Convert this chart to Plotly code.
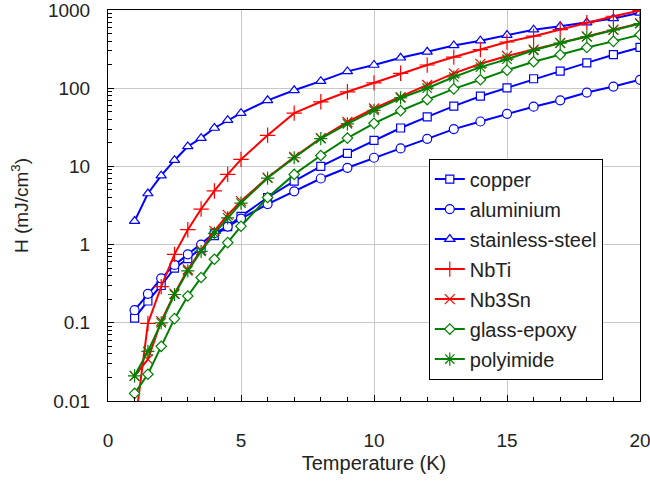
import plotly.graph_objects as go

temperature = [1, 1.5, 2, 2.5, 3, 3.5, 4, 4.5, 5, 6, 7, 8, 9, 10, 11, 12, 13, 14, 15, 16, 17, 18, 19, 20]

copper = [0.115, 0.19, 0.30, 0.50, 0.66, 0.90, 1.3, 1.7, 2.3, 4.0, 6.5, 10, 14.7, 21.5, 31, 43, 59, 79, 101, 132, 165, 211, 268, 332]
aluminium = [0.145, 0.235, 0.37, 0.55, 0.75, 1.0, 1.4, 1.7, 2.15, 3.3, 4.8, 7.0, 9.6, 12.9, 17, 22.5, 30, 37.5, 47, 58, 70, 88, 105, 128]
stainless_steel = [2.0, 4.5, 7.6, 12, 18, 23, 31, 39, 48, 70, 94, 123, 164, 198, 245, 292, 352, 405, 478, 560, 618, 690, 780, 920]
nbti = [0.0045, 0.098, 0.29, 0.75, 1.55, 2.85, 4.85, 7.9, 12.3, 25, 48, 67, 90, 117, 155, 198, 250, 312, 390, 462, 562, 690, 832, 985]
nb3sn = [0.021, 0.034, 0.105, 0.236, 0.48, 0.85, 1.5, 2.4, 3.6, 7.2, 13.2, 23, 37, 55, 77, 110, 155, 205, 258, 312, 380, 460, 560, 680]
glass_epoxy = [0.0125, 0.022, 0.05, 0.113, 0.22, 0.38, 0.65, 1.06, 1.72, 4.0, 7.9, 13.8, 23, 35.5, 51.5, 71.5, 98, 128, 170, 218, 268, 332, 397, 483]
polyimide = [0.021, 0.043, 0.10, 0.23, 0.46, 0.82, 1.39, 2.2, 3.4, 7.1, 12.9, 22.7, 35, 52, 75, 100, 139, 186, 235, 305, 378, 455, 555, 670]

series_names = ["copper", "aluminium", "stainless-steel", "NbTi", "Nb3Sn", "glass-epoxy", "polyimide"]
series_values = [copper, aluminium, stainless_steel, nbti, nb3sn, glass_epoxy, polyimide]

x_ticks = [0, 5, 10, 15, 20]
y_tickvals = [0.01, 0.1, 1, 10, 100, 1000]
y_ticktext = ["0.01", "0.1", "1", "10", "100", "1000"]

BLUE = "#0000FF"
RED = "#FF0000"
GREEN = "#008000"
styles = [
    dict(color=BLUE, symbol="square", size=8, fill="white"),
    dict(color=BLUE, symbol="circle", size=9, fill="white"),
    dict(color=BLUE, symbol="triangle-up", size=9, fill="white"),
    dict(color=RED, symbol="cross-thin", size=11, fill=RED),
    dict(color=RED, symbol="x-thin", size=10, fill=RED),
    dict(color=GREEN, symbol="diamond", size=8, fill="white"),
    dict(color=GREEN, symbol="asterisk", size=11, fill=GREEN),
]

fig = go.Figure()
for name, vals, st in zip(series_names, series_values, styles):
    fig.add_trace(go.Scatter(
        x=temperature, y=vals, name=name, mode="lines+markers",
        line=dict(color=st["color"], width=2),
        marker=dict(symbol=st["symbol"], size=st["size"], color=st["fill"],
                    line=dict(color=st["color"], width=1.2)),
        legendgroup=name,
    ))

font = "Liberation Sans, Arial, sans-serif"
fig.update_layout(
    width=650, height=481,
    margin=dict(l=108, r=10, t=10, b=80),
    paper_bgcolor="white", plot_bgcolor="white",
    font=dict(family=font, size=19, color="#222222"),
    showlegend=True,
    legend=dict(x=0.603, y=0.62, xanchor="left", yanchor="top",
                bgcolor="white", bordercolor="black", borderwidth=1,
                font=dict(size=20, color="#222222"), tracegroupgap=1,
                itemwidth=30),
    xaxis=dict(range=[0, 20], tickvals=x_ticks, showgrid=True, gridcolor="#C8C8C8", gridwidth=1,
               ticks="inside", ticklen=6, tickcolor="black", showline=True, linecolor="black",
               linewidth=1, mirror=True, zeroline=False, ticklabelstandoff=22,
               ticklabeloverflow="allow", automargin=False,
               minor=dict(dtick=1, ticks="inside", ticklen=4, tickcolor="black", showgrid=False),
               title=dict(text="Temperature (K)", font=dict(size=20), standoff=6)),
    yaxis=dict(type="log", range=[-2, 3], tickvals=y_tickvals, ticktext=y_ticktext,
               showgrid=True, gridcolor="#C8C8C8", gridwidth=1,
               ticks="inside", ticklen=6, tickcolor="black", showline=True, linecolor="black",
               linewidth=1, mirror=True, zeroline=False, ticklabelstandoff=13,
               ticklabeloverflow="allow", automargin=False,
               minor=dict(dtick="D1", ticks="inside", ticklen=4, tickcolor="black", showgrid=False),
               title=dict(text="H (mJ/cm<sup>3</sup>)", font=dict(size=19), standoff=14)),
)

fig.write_html("out.html", config={"displayModeBar": False},
               post_script="document.body.style.margin='0px';")
